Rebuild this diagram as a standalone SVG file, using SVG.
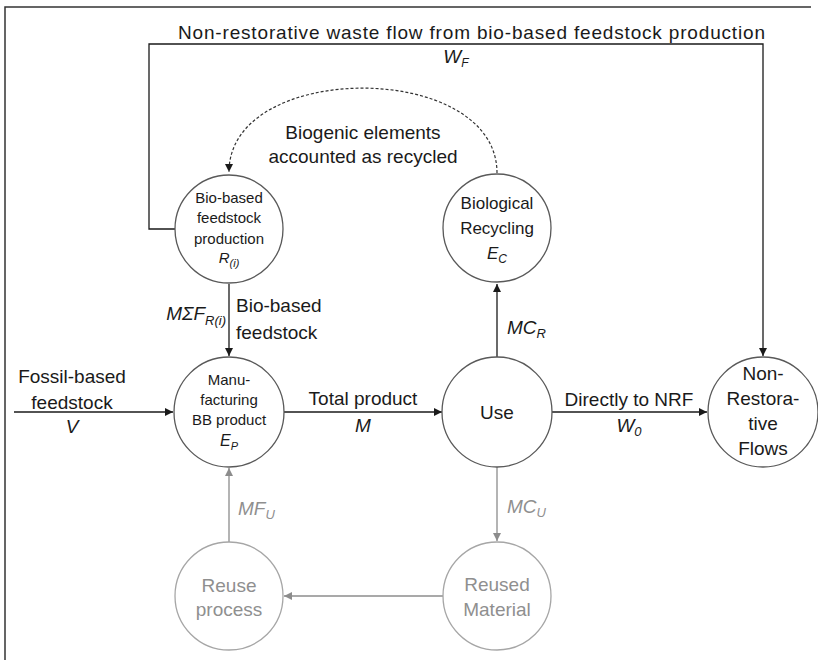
<svg xmlns="http://www.w3.org/2000/svg" width="818" height="660" viewBox="0 0 818 660">
<defs>
<style>
text{font-family:"Liberation Sans",Arial,sans-serif;fill:#1a1a1a}
.n{font-size:15px;text-anchor:middle}
.nl{font-size:19px;text-anchor:middle}
.e{font-size:19px}
.c{text-anchor:middle}
.i{font-style:italic}
.g{fill:#8f8f8f}
.node{fill:#fff;stroke:#595959;stroke-width:1.3}
.gnode{fill:#fff;stroke:#a6a6a6;stroke-width:1.3}
.ln{fill:none;stroke:#1a1a1a;stroke-width:1.3}
.gl{fill:none;stroke:#8c8c8c;stroke-width:1.3}
.dash{fill:none;stroke:#333;stroke-width:1.2;stroke-dasharray:3 2}
</style>
<marker id="ah" viewBox="0 0 10 10" refX="10" refY="5" markerWidth="8" markerHeight="8" markerUnits="userSpaceOnUse" orient="auto"><path d="M0,0 L10,5 L0,10 z" fill="#1a1a1a"/></marker>
<marker id="ahg" viewBox="0 0 10 10" refX="10" refY="5" markerWidth="8" markerHeight="8" markerUnits="userSpaceOnUse" orient="auto"><path d="M0,0 L10,5 L0,10 z" fill="#8c8c8c"/></marker>
</defs>
<rect width="818" height="660" fill="#fff"/>
<path d="M5,660 V7 H811" fill="none" stroke="#333" stroke-width="1.5"/>

<g id="connectors">
<path class="ln" d="M175,229 H149 V44 H763 V356" marker-end="url(#ah)"/>
<path class="dash" d="M497,173 C497,60 229,60 229,172" marker-end="url(#ah)"/>
<path class="ln" d="M229,284 V356" marker-end="url(#ah)"/>
<path class="ln" d="M14,412 H173" marker-end="url(#ah)"/>
<path class="ln" d="M284,412 H442" marker-end="url(#ah)"/>
<path class="ln" d="M497,357 V284" marker-end="url(#ah)"/>
<path class="ln" d="M552,412 H707" marker-end="url(#ah)"/>
<path class="gl" d="M497,467 V541" marker-end="url(#ahg)"/>
<path class="gl" d="M443,596 H284" marker-end="url(#ahg)"/>
<path class="gl" d="M229,542 V468" marker-end="url(#ahg)"/>
</g>

<g id="labels">
<text class="e" x="178" y="39" textLength="587" lengthAdjust="spacing">Non-restorative waste flow from bio-based feedstock production</text>
<text class="e c i" x="456" y="63">W<tspan font-size="12" dy="4">F</tspan></text>
<text class="e c" x="363" y="139">Biogenic elements</text>
<text class="e c" x="363" y="163">accounted as recycled</text>
<text class="e i" x="226" y="320" text-anchor="end">MΣF<tspan font-size="13" dy="5">R(i)</tspan></text>
<text class="e" x="236" y="312">Bio-based</text>
<text class="e" x="236" y="339">feedstock</text>
<text class="e c" x="72" y="383">Fossil-based</text>
<text class="e c" x="72" y="409">feedstock</text>
<text class="e c i" x="72" y="433">V</text>
<text class="e c" x="363" y="405">Total product</text>
<text class="e c i" x="363" y="432">M</text>
<text class="e i" x="507" y="334">MC<tspan font-size="13" dy="4">R</tspan></text>
<text class="e c" x="629" y="406">Directly to NRF</text>
<text class="e c i" x="629" y="432">W<tspan font-size="13" dy="4">0</tspan></text>
<text class="e i g" x="507" y="513">MC<tspan font-size="13" dy="4">U</tspan></text>
<text class="e i g" x="238" y="515">MF<tspan font-size="13" dy="4">U</tspan></text>
</g>

<g id="bio-feedstock">
<circle class="node" cx="229" cy="229" r="54"/>
<text class="n" x="229" y="203">Bio-based</text>
<text class="n" x="229" y="223">feedstock</text>
<text class="n" x="229" y="244">production</text>
<text class="n i" x="229" y="263">R<tspan font-size="11" dy="4">(i)</tspan></text>
</g>

<g id="bio-recycling">
<circle class="node" cx="497" cy="228" r="54"/>
<text class="nl" x="497" y="209" font-size="17" style="font-size:17px">Biological</text>
<text class="nl" x="497" y="234" style="font-size:17px">Recycling</text>
<text class="nl i" x="497" y="259" style="font-size:17px">E<tspan font-size="12" dy="4">C</tspan></text>
</g>

<g id="manufacturing">
<circle class="node" cx="229" cy="412" r="55"/>
<text class="n" x="229" y="385">Manu-</text>
<text class="n" x="229" y="405">facturing</text>
<text class="n" x="229" y="425">BB product</text>
<text class="n i" x="229" y="446" style="font-size:16px">E<tspan font-size="11" dy="4">P</tspan></text>
</g>

<g id="use">
<circle class="node" cx="497" cy="412" r="55"/>
<text class="nl" x="497" y="419">Use</text>
</g>

<g id="nrf">
<circle class="node" cx="763" cy="412" r="55"/>
<text class="nl" x="763" y="380">Non-</text>
<text class="nl" x="763" y="405">Restora-</text>
<text class="nl" x="763" y="430">tive</text>
<text class="nl" x="763" y="455">Flows</text>
</g>

<g id="reuse-process">
<circle class="gnode" cx="229" cy="596" r="54"/>
<text class="nl g" x="229" y="592">Reuse</text>
<text class="nl g" x="229" y="616">process</text>
</g>

<g id="reused-material">
<circle class="gnode" cx="497" cy="596" r="54"/>
<text class="nl g" x="497" y="591">Reused</text>
<text class="nl g" x="497" y="616">Material</text>
</g>
</svg>
